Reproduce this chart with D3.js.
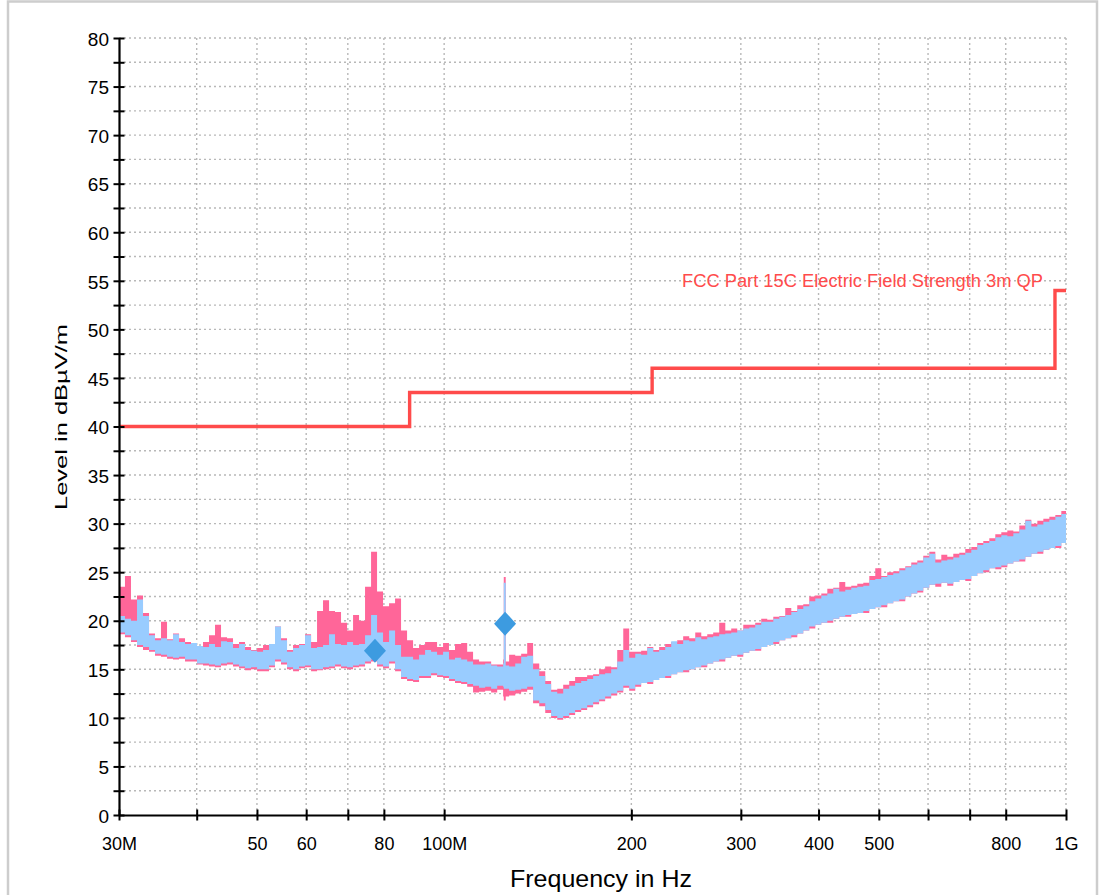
<!DOCTYPE html>
<html>
<head>
<meta charset="utf-8">
<script src="https://cdn.jsdelivr.net/npm/d3@7"></script>
<style>
  html, body { margin: 0; padding: 0; background: #fff; }
  svg { display: block; }
  text { font-family: "Liberation Sans", Arial, sans-serif; }
</style>
</head>
<body>
<svg id="chart" width="1099" height="895"></svg>
<script>
// ---------- data ----------
const freqMHz = [30.0,30.67,31.36,32.07,32.79,33.53,34.28,35.05,35.84,36.64,37.47,38.31,39.17,40.05,40.95,41.87,42.81,43.77,44.76,45.76,46.79,47.84,48.92,50.02,51.14,52.29,53.46,54.66,55.89,57.15,58.43,59.74,61.09,62.46,63.86,65.30,66.76,68.26,69.80,71.37,72.97,74.61,76.29,78.00,79.75,81.55,83.38,85.25,87.17,89.13,91.13,93.18,95.27,97.41,99.60,101.8,104.1,106.5,108.9,111.3,113.8,116.4,119.0,121.7,124.4,124.7,125.3,125.6,127.2,130.1,133.0,136.0,139.0,142.2,145.4,148.6,152.0,155.4,158.9,162.4,166.1,169.8,173.6,177.5,181.5,185.6,189.8,194.1,198.4,202.9,207.4,212.1,216.9,221.7,226.7,231.8,237.0,242.3,247.8,253.4,259.1,264.9,270.8,276.9,283.2,289.5,296.0,302.7,309.5,316.4,323.5,330.8,338.3,345.9,353.6,361.6,369.7,378.0,386.5,395.2,404.1,413.2,422.4,431.9,441.6,451.5,461.7,472.1,482.7,493.5,504.6,515.9,527.5,539.4,551.5,563.9,576.6,589.5,602.8,616.3,630.2,644.3,658.8,673.6,688.7,704.2,720.0,736.2,752.8,769.7,787.0,804.7,822.8,841.3,860.2,879.5,899.3,919.5,940.2,961.3,982.9,1000];

const avgLow = [18.8,18.5,18.0,17.5,17.3,17.0,16.6,16.5,16.3,16.2,16.3,16.0,16.0,15.6,15.6,15.5,15.4,15.6,15.7,15.5,15.3,15.1,15.2,15.0,15.0,15.4,16.0,15.7,15.2,15.0,15.3,15.4,15.0,15.0,15.2,15.3,15.5,15.3,15.2,15.4,15.5,15.8,16.0,15.5,15.3,15.8,15.0,14.2,14.0,13.9,14.3,14.3,14.6,14.4,14.3,14.0,13.8,13.7,13.5,13.3,13.1,13.2,13.0,13.3,13.2,13.0,13.0,13.0,12.8,12.9,13.0,13.2,11.8,11.5,10.8,10.2,10.0,10.2,10.5,10.8,11.0,11.3,11.6,11.9,12.2,12.5,12.8,13.3,13.0,13.4,13.6,13.7,13.9,14.1,14.3,14.5,14.7,14.9,15.0,15.2,15.4,15.6,15.8,16.0,16.2,16.4,16.5,16.7,16.9,17.1,17.3,17.5,17.8,18.0,18.2,18.5,18.7,19.0,19.4,19.6,19.8,20.0,20.2,20.4,20.6,20.7,20.8,21.0,21.2,21.4,21.6,21.8,22.0,22.2,22.5,22.8,23.1,23.4,23.7,23.8,23.9,23.8,24.0,24.2,24.3,24.6,24.9,25.2,25.4,25.5,25.7,25.9,26.1,26.3,26.6,26.9,27.1,27.3,27.5,27.7,28.0,28.3];

const avgHigh = [20.5,20.2,20.0,22.2,20.5,18.5,18.0,18.2,18.0,18.6,17.8,17.6,17.7,17.4,17.3,17.6,17.3,17.9,17.8,17.2,17.6,17.0,16.9,16.8,17.0,17.6,19.4,18.0,16.8,17.2,17.5,18.5,17.2,17.3,17.5,18.6,17.6,17.5,17.8,17.5,17.6,18.5,20.6,18.8,17.8,19.0,17.5,16.3,16.3,16.0,16.5,17.0,16.8,16.5,16.8,16.0,16.2,16.0,15.8,15.5,15.5,15.6,15.4,15.3,15.6,23.9,23.9,15.4,15.3,15.6,16.3,16.4,15.0,14.3,13.5,12.7,12.5,13.0,13.3,13.6,13.8,14.0,14.3,14.5,14.6,15.0,15.8,17.0,16.2,16.6,16.5,17.2,16.8,17.0,17.3,17.9,17.6,18.0,17.9,18.3,18.1,18.3,18.4,18.6,18.7,18.8,19.0,19.2,19.3,19.6,19.9,19.9,20.2,20.4,20.6,20.9,21.2,21.5,22.0,22.3,22.6,22.8,23.3,23.0,23.2,23.4,23.5,23.6,24.2,24.3,24.5,24.7,24.9,25.2,25.5,25.8,26.0,26.5,26.9,26.0,26.2,26.3,26.5,26.8,27.0,27.3,27.8,28.0,28.2,28.6,28.8,28.7,29.0,29.4,30.3,29.7,29.9,30.2,30.4,30.7,31.0,30.8];

const peakLow = [18.6,18.3,17.8,17.3,17.0,16.8,16.4,16.3,16.1,16.0,16.1,15.8,15.8,15.5,15.4,15.3,15.2,15.4,15.5,15.3,15.1,14.9,15.0,14.8,14.8,15.2,15.8,15.5,15.0,14.8,15.1,15.2,14.8,14.9,15.0,15.1,15.3,15.1,15.0,15.2,15.3,15.6,15.8,15.3,15.1,15.6,14.8,14.0,13.8,13.7,14.1,14.1,14.4,14.2,14.1,13.8,13.6,13.5,13.2,12.6,12.7,12.8,12.6,12.9,12.2,11.8,11.8,12.2,12.3,12.5,12.7,12.9,11.5,11.2,10.5,10.0,9.8,10.0,10.3,10.6,10.8,11.1,11.4,11.7,12.0,12.3,12.6,13.1,12.8,13.2,13.6,13.5,13.9,14.1,14.1,14.5,14.7,14.7,15.0,15.2,15.2,15.6,15.8,15.8,16.2,16.4,16.3,16.7,16.9,16.9,17.3,17.5,17.6,18.0,18.2,18.3,18.7,19.0,19.2,19.6,19.8,19.8,20.2,20.4,20.4,20.7,20.8,20.8,21.2,21.4,21.4,21.8,22.0,22.0,22.5,22.8,22.9,23.4,23.7,23.5,23.9,23.6,24.0,24.2,24.1,24.6,24.9,25.0,25.4,25.3,25.5,25.9,26.1,26.1,26.6,26.9,26.9,27.3,27.5,27.5,28.0,28.1];

const peakHigh = [23.5,24.6,22.2,22.6,20.8,18.7,18.2,19.9,18.1,18.7,18.2,17.8,17.6,17.2,17.8,18.5,19.6,18.3,18.2,17.6,17.8,17.3,17.0,17.2,17.5,17.6,19.4,18.2,17.0,17.5,17.6,18.6,17.8,21.0,22.1,21.0,20.9,19.8,19.0,20.6,20.0,23.5,27.1,23.0,21.5,21.8,22.3,19.0,18.0,17.2,17.5,17.8,17.8,17.3,17.7,17.0,17.6,17.7,16.8,16.0,15.8,15.8,15.5,15.5,16.0,24.5,24.5,15.8,16.5,16.4,16.6,17.7,15.6,14.8,13.8,12.9,13.0,13.4,13.8,14.2,14.2,14.4,14.5,15.0,15.3,15.2,17.0,19.2,16.8,16.8,16.9,17.3,17.0,17.3,17.6,17.8,18.0,18.4,18.2,18.8,18.4,18.6,18.8,19.8,19.0,19.2,19.0,19.6,19.6,19.8,20.2,20.1,20.4,20.5,21.3,21.0,21.6,21.7,22.5,22.6,22.8,23.3,23.4,24.0,23.5,23.6,23.8,23.9,24.6,25.4,24.6,25.0,25.1,25.4,25.6,26.0,26.2,26.7,27.1,26.3,26.8,26.6,26.9,27.0,27.4,27.6,28.0,28.2,28.5,28.9,29.1,29.3,29.2,29.8,30.4,30.0,30.3,30.5,30.7,30.9,31.3,31.0];

const limitFreq = [30, 88, 216, 960, 1000];
const limitLevel = [40, 43.5, 46, 54, 54];
const limitName = "FCC Part 15C Electric Field Strength 3m QP";

const markerFreq = [77.4, 125.3];
const markerLevel = [16.9, 19.7];

const xTickVals = [30, 40, 50, 60, 70, 80, 100, 200, 300, 400, 500, 600, 700, 800, 1000];
const xTickLabels = ["30M", "", "50", "60", "", "80", "100M", "200", "300", "400", "500", "", "", "800", "1G"];
const yTickVals = d3.range(0, 80.01, 2.5);
const yLabelVals = [0,5,10,15,20,25,30,35,40,45,50,55,60,65,70,75,80];

const xTitle = "Frequency in Hz";
const yTitle = "Level in dBµV/m";

// ---------- drawing ----------
const svg = d3.select("#chart");
const L = 119, R = 1066, T = 38, B = 815;

const x = d3.scaleLog().domain([30, 1000]).range([L, R]);
const y = d3.scaleLinear().domain([0, 80]).range([B, T]);

// frame
svg.append("rect").attr("x", 8).attr("y", 1.5).attr("width", 1089).attr("height", 910)
  .attr("fill", "#fff").attr("stroke", "#cdcdcd").attr("stroke-width", 2.5);

// grid
const grid = svg.append("g").attr("stroke", "#b8b8b8").attr("stroke-width", 1.4)
  .attr("stroke-dasharray", "2,3");
yTickVals.filter(v => v > 0).forEach(v => {
  grid.append("line").attr("x1", L).attr("x2", R).attr("y1", y(v)).attr("y2", y(v));
});
xTickVals.filter(v => v > 30).forEach(v => {
  grid.append("line").attr("x1", x(v)).attr("x2", x(v)).attr("y1", T).attr("y2", B);
});

// traces
const peakData = freqMHz.map((f, i) => ({f, lo: peakLow[i], hi: peakHigh[i]}));
const avgData = freqMHz.map((f, i) => ({f, lo: avgLow[i], hi: avgHigh[i]}));
const band = d3.area().curve(d3.curveStepAfter)
  .x(d => x(d.f)).y0(d => y(d.lo)).y1(d => y(d.hi));
svg.append("path").datum(peakData).attr("d", band).attr("fill", "#ff6699");
svg.append("path").datum(avgData).attr("d", band).attr("fill", "#99ccff");

// limit line
const limData = limitFreq.map((f, i) => ({f, v: limitLevel[i]}));
svg.append("path").datum(limData)
  .attr("d", d3.line().curve(d3.curveStepAfter).x(d => x(d.f)).y(d => y(d.v)))
  .attr("fill", "none").attr("stroke", "#ff4b4b").attr("stroke-width", 3.4);
svg.append("text").attr("x", 682).attr("y", 287).attr("font-size", 18)
  .attr("fill", "#ff4b4b").attr("textLength", 361).attr("lengthAdjust", "spacingAndGlyphs")
  .text(limitName);

// markers
svg.selectAll("path.mk").data(markerFreq).enter().append("path").attr("class", "mk")
  .attr("d", "M0,-12 L11,0 L0,12 L-11,0 Z")
  .attr("transform", (d, i) => `translate(${x(d)},${y(markerLevel[i])})`)
  .attr("fill", "#3d9be0");

// axes
const xAxis = svg.append("g").attr("transform", `translate(0,${B})`)
  .call(d3.axisBottom(x).tickValues(xTickVals).tickFormat((d, i) => xTickLabels[i]).tickSizeOuter(0));
xAxis.select(".domain").attr("stroke", "#000").attr("stroke-width", 2.2);
xAxis.selectAll(".tick line").attr("y1", -5.5).attr("y2", 5.5).attr("stroke", "#000").attr("stroke-width", 2);
xAxis.selectAll(".tick text").attr("y", 35).attr("dy", 0).attr("font-size", 18)
  .attr("fill", "#000").attr("font-family", "'Liberation Sans', Arial, sans-serif");

const yAxis = svg.append("g").attr("transform", `translate(${L},0)`)
  .call(d3.axisLeft(y).tickValues(yTickVals)
    .tickFormat(d => yLabelVals.includes(d) ? String(d) : "").tickSizeOuter(0));
yAxis.select(".domain").attr("stroke", "#000").attr("stroke-width", 2.2);
yAxis.selectAll(".tick line").attr("x1", -5.5).attr("x2", 5.5).attr("stroke", "#000").attr("stroke-width", 2);
yAxis.selectAll(".tick text").attr("x", -10).attr("dy", "0.38em").attr("font-size", 19)
  .attr("fill", "#000").attr("font-family", "'Liberation Sans', Arial, sans-serif");

// titles
svg.append("text").attr("x", 601).attr("y", 887).attr("text-anchor", "middle")
  .attr("font-size", 24).attr("fill", "#000")
  .attr("textLength", 182).attr("lengthAdjust", "spacingAndGlyphs").text(xTitle);
svg.append("text").attr("transform", "translate(67,417) rotate(-90)").attr("text-anchor", "middle")
  .attr("font-size", 16).attr("fill", "#000")
  .attr("textLength", 186).attr("lengthAdjust", "spacingAndGlyphs").text(yTitle);
</script>
</body>
</html>
